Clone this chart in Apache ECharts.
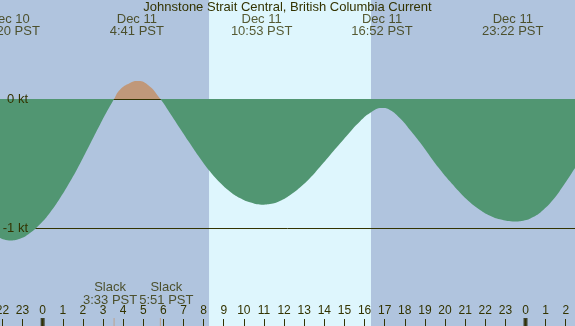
<!DOCTYPE html>
<html>
<head>
<meta charset="utf-8">
<script src="https://cdn.jsdelivr.net/npm/echarts@6/dist/echarts.min.js"></script>
<style>html,body{margin:0;padding:0;background:#b0c4de;}#c{width:575px;height:326px;}</style>
</head>
<body>
<div id="c"></div>
<script>
// hours relative to Dec 11 00:00 PST
var xRange = [-2.12, 26.46];
var yRange = [-1.7597, 0.7674];
var daylight = [8.27, 16.32];
var titleText = 'Johnstone Strait Central, British Columbia Current';
var hourTicks = [-2,-1,0,1,2,3,4,5,6,7,8,9,10,11,12,13,14,15,16,17,18,19,20,21,22,23,24,25,26];
var midnightHours = [0, 24];
var refLevels = [0, -1];
var eventHours = [-1.667, 4.683, 10.883, 16.867, 23.367];
var eventLabels = ['Dec 10\n22:20 PST', 'Dec 11\n4:41 PST', 'Dec 11\n10:53 PST', 'Dec 11\n16:52 PST', 'Dec 11\n23:22 PST'];
var slackHours = [3.55, 5.85];
var slackLabels = ['Slack\n3:33 PST', 'Slack\n5:51 PST'];
var curveHours = [-2.12,-1.667,-1.128,-0.631,-0.134,0.363,0.860,1.357,1.854,2.351,2.848,3.55,3.842,4.339,4.683,5.221,5.85,6.322,6.819,7.316,7.813,8.31,8.807,9.304,9.801,10.30,10.883,11.30,11.79,12.29,12.79,13.29,13.78,14.28,14.78,15.28,15.77,16.27,16.867,17.26,17.76,18.26,18.76,19.25,19.75,20.25,20.75,21.24,21.74,22.24,22.73,23.367,23.89,24.38,24.88,25.38,25.87,26.46];
var curveKt = [-1.078,-1.096,-1.083,-1.039,-0.971,-0.881,-0.770,-0.642,-0.501,-0.351,-0.199,0,0.072,0.124,0.140,0.111,0,-0.108,-0.226,-0.343,-0.457,-0.561,-0.648,-0.717,-0.768,-0.801,-0.819,-0.814,-0.790,-0.746,-0.687,-0.613,-0.527,-0.436,-0.345,-0.255,-0.174,-0.109,-0.070,-0.085,-0.150,-0.240,-0.338,-0.443,-0.546,-0.640,-0.726,-0.800,-0.860,-0.905,-0.933,-0.949,-0.943,-0.915,-0.860,-0.780,-0.675,-0.535];

var TXT = '#333300', GREEN = '#519672', TAN = '#c0987a', DAY = '#def6fd', NIGHT = '#b0c4de';
var FONT = '"Liberation Sans", Arial, sans-serif';

var chart = echarts.init(document.getElementById('c'), null, {renderer: 'canvas'});
var curveData = curveHours.map(function (h, i) { return [h, curveKt[i]]; });

chart.setOption({
  animation: false,
  backgroundColor: NIGHT,
  textStyle: {fontFamily: FONT},
  title: {
    text: titleText, left: 'center', top: 0, padding: 0,
    textStyle: {fontSize: 13, fontWeight: 'normal', color: TXT, fontFamily: FONT, lineHeight: 15}
  },
  grid: {left: 0, right: 0, top: 0, bottom: 0, containLabel: false, outerBoundsMode: 'none'},
  xAxis: {
    type: 'value', min: xRange[0], max: xRange[1], scale: true, z: 5,
    axisLine: {show: false, onZero: false},
    splitLine: {show: false},
    axisTick: {show: true, inside: true, length: 7, customValues: hourTicks, lineStyle: {color: TXT, width: 1}},
    axisLabel: {
      show: true, inside: true, margin: 9, customValues: hourTicks, hideOverlap: false,
      showMinLabel: true, showMaxLabel: true,
      color: TXT, fontSize: 12, fontFamily: FONT,
      formatter: function (v) { return String(((Math.round(v) % 24) + 24) % 24); }
    }
  },
  yAxis: {
    type: 'value', min: yRange[0], max: yRange[1], scale: true, z: 5,
    axisLine: {show: false, onZero: false}, axisTick: {show: false}, splitLine: {show: false},
    axisLabel: {
      show: true, inside: true, margin: 28, align: 'right', customValues: refLevels,
      color: TXT, fontSize: 13, fontFamily: FONT,
      formatter: function (v) { return v + ' kt'; }
    }
  },
  visualMap: {
    show: false, type: 'piecewise', seriesIndex: 2, dimension: 1,
    pieces: [{gte: -10, lt: 0, color: GREEN}, {gte: 0, lte: 10, color: TAN}]
  },
  series: [
    {
      type: 'line', data: [], z: 0, silent: true,
      markArea: {silent: true, z: 0, itemStyle: {color: DAY, opacity: 1}, data: [[{xAxis: daylight[0]}, {xAxis: daylight[1]}]]}
    },
    {
      type: 'line', data: [], z: 1, silent: true,
      markLine: {
        silent: true, z: 1, symbol: 'none', label: {show: false},
        lineStyle: {color: TXT, width: 1, type: 'solid'},
        data: refLevels.map(function (v) { return {yAxis: v}; })
      }
    },
    {
      type: 'line', data: curveData, z: 2, smooth: 0.5,
      showSymbol: false, symbol: 'none',
      lineStyle: {width: 0},
      areaStyle: {opacity: 1}
    },
    {
      type: 'scatter', z: 3, symbol: 'rect', symbolSize: [4, 8], symbolOffset: [0, -4],
      itemStyle: {color: '#222200'}, clip: false,
      data: midnightHours.map(function (h) { return [h, yRange[0]]; })
    },
    {
      type: 'scatter', z: 3, symbol: 'rect', symbolSize: [1, 8], symbolOffset: [0, -4],
      itemStyle: {color: TAN}, clip: false,
      data: slackHours.map(function (h) { return [h, yRange[0]]; })
    },
    {
      type: 'scatter', z: 4, symbolSize: 0, clip: false,
      data: eventHours.map(function (h, i) { return {value: [h, yRange[1]], name: eventLabels[i]}; }),
      label: {
        show: true, position: 'inside', offset: [0, 25],
        formatter: function (p) { return p.name; },
        color: TXT, fontSize: 13, lineHeight: 12, align: 'center', fontFamily: FONT
      }
    },
    {
      type: 'scatter', z: 4, symbolSize: 0, clip: false,
      data: slackHours.map(function (h, i) { return {value: [h, yRange[0]], name: slackLabels[i], label: {offset: [i === 0 ? -4 : 6, -32.5]}}; }),
      label: {
        show: true, position: 'inside',
        formatter: function (p) { return p.name; },
        color: TXT, fontSize: 13, lineHeight: 13, align: 'center', fontFamily: FONT
      }
    }
  ]
});
</script>
</body>
</html>
